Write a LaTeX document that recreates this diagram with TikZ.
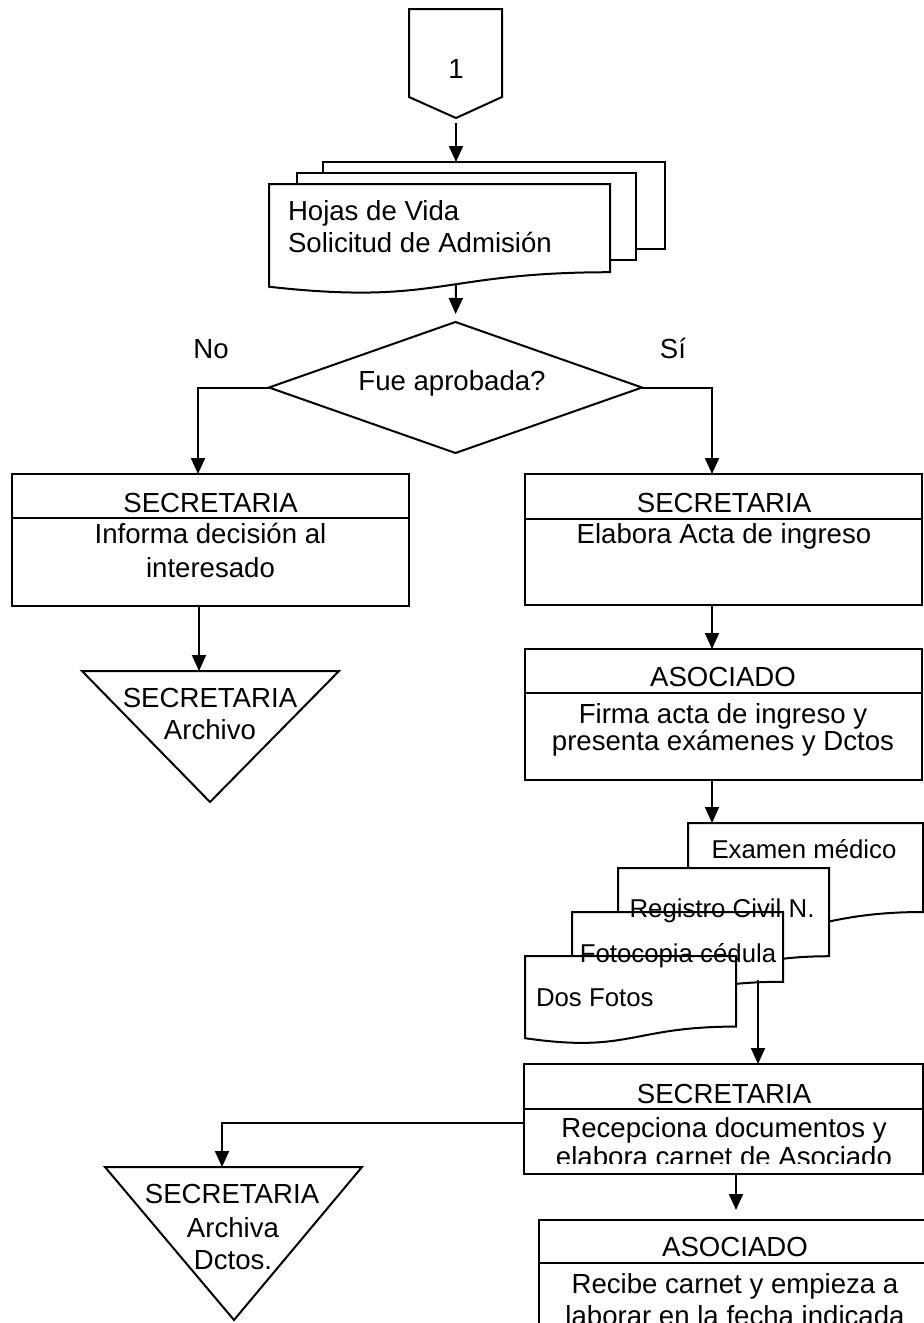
\documentclass[tikz,border=0pt]{standalone}
\usepackage{fontspec}
\setmainfont{Liberation Sans}
\usetikzlibrary{arrows.meta,shapes.geometric}

% flowchart "document" symbol: #2,#3 = top left corner, #4 = width, #5 = height
\newcommand\flowdoc[5][]{%
  \draw[shp,#1] (#2,#3) -- ({#2+#4},#3) -- ({#2+#4},{#3+0.802*#5})
    .. controls ({#2+0.5*#4},{#3+0.802*#5}) and ({#2+0.5*#4},{#3+1.107*#5})
    .. (#2,{#3+0.934*#5}) -- cycle;}

\begin{document}
\begin{tikzpicture}[x=0.5pt,y=-0.5pt,
  every node/.style={inner sep=0pt,outer sep=0pt},
  shp/.style={draw=black,fill=white,line width=1pt,line join=miter},
  box/.style={shp,rectangle},
  conn/.style={line width=1pt},
  arr/.style={conn,-{Triangle[length=8pt,width=7pt]}},
  txt/.style={anchor=base,font=\fontsize{13.8}{16}\selectfont},
  ltxt/.style={anchor=base west,font=\fontsize{13.8}{16}\selectfont},
  dtxt/.style={anchor=base,font=\fontsize{12.9}{15}\selectfont},
  ldtxt/.style={anchor=base west,font=\fontsize{12.9}{15}\selectfont},
]
\clip (0,0) rectangle (924,1323);
\fill[white] (0,0) rectangle (924,1323);

% ---------- shapes ----------
% off-page connector
\draw[shp] (409,9) -- (502,9) -- (502,97) -- (456,118) -- (409,97) -- cycle;
\coordinate (offtip) at (456,118);

% stack of documents
\draw[shp] (323,162) rectangle (665,249);
\draw[shp] (297,173) rectangle (636,260);
\flowdoc{269}{184}{341}{110}
\coordinate (mdtop) at (456,162);
\coordinate (mdbot) at (456,285);

% decision
\node[diamond,shp,minimum width=186.5pt,minimum height=65.5pt] (dec) at (455.5,387.5) {};

% left branch
\node[box,minimum width=198.5pt,minimum height=66pt] (lb1) at (210.5,540) {};
\draw[conn] (lb1.west |- 0,518) -- (lb1.east |- 0,518);
\coordinate (lb1in) at (198,474);
\draw[shp] (82,671) -- (339,671) -- (210,802) -- cycle;
\coordinate (t1in) at (199,671);

% right branch
\node[box,minimum width=198.5pt,minimum height=65.5pt] (rb1) at (723.5,539.5) {};
\draw[conn] (rb1.west |- 0,519) -- (rb1.east |- 0,519);
\coordinate (rb1in) at (712,474);

\node[box,minimum width=198.5pt,minimum height=65.5pt] (rb2) at (723.5,714.5) {};
\draw[conn] (rb2.west |- 0,693) -- (rb2.east |- 0,693);

% supporting documents
\flowdoc{688}{823}{235}{111}
\flowdoc{618}{868}{211}{110}
\flowdoc{572}{912}{211}{87}
\flowdoc{525}{956}{211}{88}
\coordinate (exin) at (712,823);
\coordinate (fcbot) at (758,980);

\node[box,minimum width=199.5pt,minimum height=55pt] (b3) at (723.5,1119) {};
\draw[conn] (b3.west |- 0,1109) -- (b3.east |- 0,1109);

\node[box,minimum width=196.5pt,minimum height=75pt] (b4) at (735.5,1295) {};
\draw[conn] (b4.west |- 0,1263) -- (b4.east |- 0,1263);

\draw[shp] (105,1167) -- (362,1167) -- (234,1320) -- cycle;
\coordinate (t2in) at (222,1167);

% ---------- texts ----------
\node[txt] (one) at (456,78) {1};
\node[ltxt] (hv1) at (288,220) {Hojas de Vida};
\node[ltxt] (hv2) at (288,252) {Solicitud de Admisión};
\node[txt] (q) at (452,390) {Fue aprobada?};
\node[txt] (no) at (211,358) {No};
\node[txt] (si) at (673,358) {Sí};

\node[txt] (lb1a) at (210.5,512) {SECRETARIA};
\node[txt] (lb1b) at (210.5,543) {Informa decisión al};
\node[txt] (lb1c) at (210.5,577) {interesado};

\node[txt] (t1a) at (210,707) {SECRETARIA};
\node[txt] (t1b) at (210,739) {Archivo};

\node[txt] (rb1a) at (724,512) {SECRETARIA};
\node[txt] (rb1b) at (724,543) {Elabora Acta de ingreso};

\node[txt] (rb2a) at (723,686) {ASOCIADO};
\node[txt] (rb2b) at (723,723) {Firma acta de ingreso y};
\node[txt] (rb2c) at (723,750) {presenta exámenes y Dctos};

\node[dtxt] (d1) at (804,858) {Examen médico};
\node[dtxt] (d2) at (722,917) {Registro Civil N.};
\node[dtxt] (d3) at (678,962) {Fotocopia cédula};
\node[ldtxt] (d4) at (536,1006) {Dos Fotos};

\node[txt] (b3a) at (724,1103) {SECRETARIA};
\node[txt] (b3b) at (724,1137) {Recepciona documentos y};
\begin{scope}
  \clip (526,1110) rectangle (921,1163);
  \node[txt] (b3c) at (724,1166) {elabora carnet de Asociado};
\end{scope}

\node[txt] (b4a) at (735,1256) {ASOCIADO};
\node[txt] (b4b) at (735,1293) {Recibe carnet y empieza a};
\node[txt] (b4c) at (735,1325) {laborar en la fecha indicada};

\node[txt] (t2a) at (232,1203) {SECRETARIA};
\node[txt] (t2b) at (233,1237) {Archiva};
\begin{scope}
  \clip (100,1240) rectangle (400,1270);
  \node[txt] (t2c) at (233,1269) {Dctos.};
\end{scope}

% ---------- connectors ----------
\draw[arr,shorten <=2.5pt] (offtip) -- (mdtop);
\draw[arr,shorten >=4pt] (mdbot) -- (dec.north);
\draw[arr] (dec.west) -| (lb1in);
\draw[arr] (dec.east) -| (rb1in);
\draw[arr] (lb1.south -| t1in) -- (t1in);
\draw[arr] (rb1.south -| rb1in) -- (rb2.north -| rb1in);
\draw[arr] (rb2.south -| exin) -- (exin);
\draw[arr] (fcbot) -- (b3.north -| fcbot);
\draw[arr,shorten >=5pt] (b3.south -| 736,0) -- (b4.north -| 736,0);
\draw[arr] ([yshift=-2pt]b3.west) -| (t2in);
\end{tikzpicture}
\end{document}
